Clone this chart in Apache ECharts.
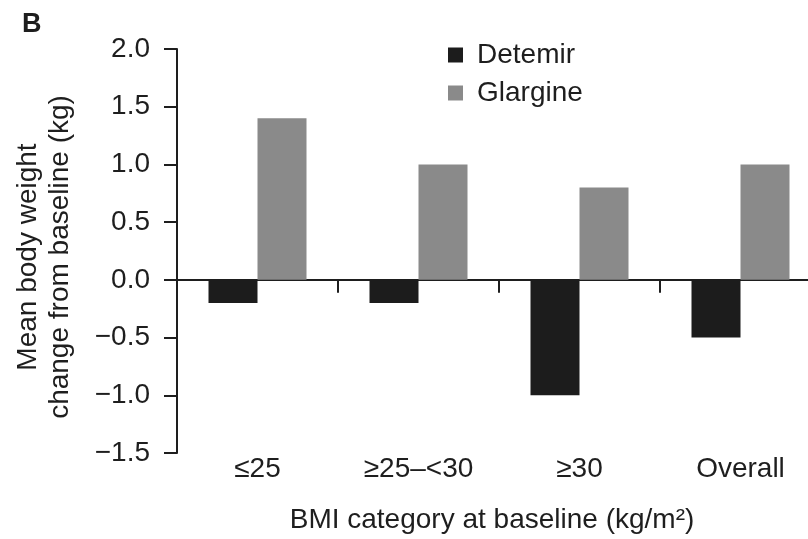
<!DOCTYPE html>
<html>
<head>
<meta charset="utf-8">
<script src="https://cdn.jsdelivr.net/npm/echarts@6/dist/echarts.min.js"></script>
<style>
  html, body { margin: 0; padding: 0; background: #fff; overflow: hidden; }
  /* the plot runs slightly past the right edge of the page */
  #chart { width: 830px; height: 539px; }
</style>
</head>
<body>
<div id="chart"></div>
<script>
// BMI categories at baseline
const categories = ['≤25', '≥25–<30', '≥30', 'Overall'];
// Mean body weight change from baseline (kg)
const detemir = [-0.2, -0.2, -1.0, -0.5];
const glargine = [1.4, 1.0, 0.8, 1.0];

const seriesNames = ['Detemir', 'Glargine'];
const yTicks = { min: -1.5, max: 2.0, interval: 0.5 };

const FONT = 'Liberation Sans, Arial, Helvetica, sans-serif';
const INK = '#1e1e1e';
const FS = 28;

const chart = echarts.init(document.getElementById('chart'), null, { renderer: 'canvas' });

chart.setOption({
  animation: false,
  backgroundColor: '#fff',
  textStyle: { fontFamily: FONT, color: INK },
  graphic: [{
    type: 'text',
    left: 22,
    top: 11,
    style: { text: 'B', font: 'bold 27px ' + FONT, fill: INK }
  }],
  legend: {
    orient: 'vertical',
    left: 448,
    top: 41,
    padding: 0,
    itemWidth: 15,
    itemHeight: 15,
    itemGap: 10,
    icon: 'rect',
    data: seriesNames,
    textStyle: { fontSize: FS, color: INK, fontFamily: FONT, padding: [0, 0, 0, 9] }
  },
  grid: { left: 177, right: 9, top: 49, bottom: 82, containLabel: false },
  xAxis: [
    {
      // category labels along the bottom of the plot
      type: 'category',
      data: categories,
      position: 'bottom',
      axisLine: { show: false, onZero: false },
      axisTick: { show: false },
      axisLabel: { fontSize: FS, color: INK, margin: 2, fontFamily: FONT },
      name: 'BMI category at baseline (kg/m²)',
      nameLocation: 'middle',
      nameGap: 53,
      nameTextStyle: { fontSize: FS, color: INK, fontFamily: FONT, padding: [0, 14, 0, 0] }
    },
    {
      // zero line with boundary ticks between the groups
      type: 'category',
      data: categories,
      position: 'bottom',
      axisLine: { show: true, onZero: true, lineStyle: { color: INK, width: 2 } },
      axisTick: { show: true, length: 13, lineStyle: { color: INK, width: 2 } },
      axisLabel: { show: false }
    }
  ],
  yAxis: {
    type: 'value',
    min: yTicks.min,
    max: yTicks.max,
    interval: yTicks.interval,
    axisLine: { show: true, lineStyle: { color: INK, width: 2 } },
    axisTick: { show: true, length: 13, lineStyle: { color: INK, width: 2 } },
    splitLine: { show: false },
    axisLabel: {
      fontSize: FS, color: INK, margin: 27, fontFamily: FONT,
      formatter: v => (v < 0 ? '−' : '') + Math.abs(v).toFixed(1)
    },
    name: 'Mean body weight\nchange from baseline (kg)',
    nameLocation: 'middle',
    nameRotate: 90,
    nameGap: 101,
    nameTextStyle: { fontSize: FS, color: INK, lineHeight: 32, fontFamily: FONT, padding: [0, 12, 0, 0] }
  },
  series: [
    {
      name: seriesNames[0],
      type: 'bar',
      xAxisIndex: 0,
      data: detemir,
      barWidth: 49,
      barGap: '0%',
      itemStyle: { color: '#1c1c1c' }
    },
    {
      name: seriesNames[1],
      type: 'bar',
      xAxisIndex: 0,
      data: glargine,
      barWidth: 49,
      barGap: '0%',
      itemStyle: { color: '#8a8a8a' }
    }
  ]
});
</script>
</body>
</html>
